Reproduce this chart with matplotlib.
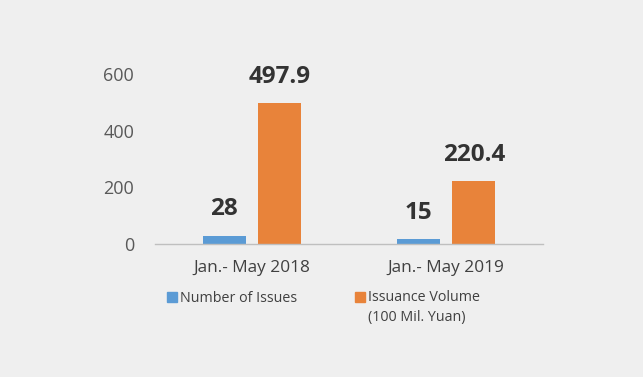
import numpy as np
import matplotlib.pyplot as plt
from matplotlib.patches import Rectangle

periods = ['Jan.- May 2018', 'Jan.- May 2019']
num_issues = [28, 15]
issuance_volume = [497.9, 220.4]
yticks = [0, 200, 400, 600]

blue = '#5B9BD5'
orange = '#E8833A'
bg = '#EFEFEF'

plt.rcParams['font.family'] = ['Open Sans', 'DejaVu Sans']

fig = plt.figure(figsize=(6.43, 3.77), dpi=100, facecolor=bg)
ax = fig.add_axes([0.241, 0.354, 0.6035, 0.4496])
ax.set_facecolor(bg)

x = np.arange(len(periods))
w = 0.22
off = 0.143
b1 = ax.bar(x - off, num_issues, w, color=blue)
b2 = ax.bar(x + off, issuance_volume, w, color=orange)

for bars, vals in [(b1, num_issues), (b2, issuance_volume)]:
    for rect, v in zip(bars, vals):
        ax.annotate(f'{v:g}', (rect.get_x() + rect.get_width() / 2, v),
                    xytext=(0, 14.5), textcoords='offset points',
                    ha='center', va='baseline', fontsize=17.5,
                    fontweight='bold', color='#333333', annotation_clip=False)

ax.set_xlim(-0.5, 1.5)
ax.set_ylim(0, 600)
ax.set_yticks(yticks)
ax.set_xticks(x)
ax.set_xticklabels(periods, fontsize=12.4, color='#404040')
ax.tick_params(axis='y', length=0, pad=15, labelsize=13, labelcolor='#595959')
ax.tick_params(axis='x', length=0, pad=12)
for s in ['top', 'right', 'left']:
    ax.spines[s].set_visible(False)
ax.spines['bottom'].set_color('#BFBFBF')
ax.spines['bottom'].set_linewidth(1)

# legend, drawn by hand so the square sits on the first line
H = 377.0
W = 643.0
fig.patches.append(Rectangle((167 / W, 1 - 302 / H), 10 / W, 10 / H,
                             transform=fig.transFigure, color=blue))
fig.text(180 / W, 1 - 298 / H, 'Number of Issues', fontsize=10.3,
         color='#404040', va='center', ha='left')
fig.patches.append(Rectangle((355 / W, 1 - 302 / H), 10 / W, 10 / H,
                             transform=fig.transFigure, color=orange))
fig.text(368 / W, 1 - 290 / H, 'Issuance Volume\n(100 Mil. Yuan)', fontsize=10.3,
         color='#404040', va='top', ha='left', linespacing=1.45)

fig.savefig('out.png', dpi=100, facecolor=bg)
